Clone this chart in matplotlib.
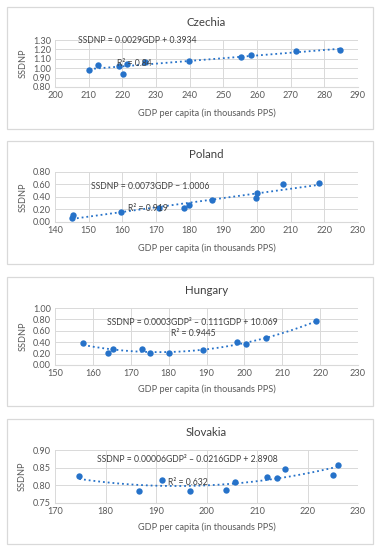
import numpy as np
import matplotlib
matplotlib.use('Agg')
import matplotlib.pyplot as plt
from matplotlib.patches import Rectangle

plt.rcParams['font.family'] = ['Lato', 'DejaVu Sans']

# data
cz_gdp = [210.2, 212.7, 218.9, 220.2, 221.4, 226.7, 239.9, 255.1, 258.1, 271.7, 284.7]
cz_ssdnp = [0.984, 1.034, 1.027, 0.935, 1.041, 1.062, 1.077, 1.116, 1.140, 1.183, 1.194]

pl_gdp = [145.1, 145.4, 159.5, 170.8, 178.3, 179.8, 186.7, 199.6, 200.0, 207.7, 218.4]
pl_ssdnp = [0.065, 0.115, 0.155, 0.225, 0.225, 0.272, 0.345, 0.38, 0.465, 0.615, 0.622]

hu_gdp = [157.5, 163.9, 165.4, 173.1, 175.2, 180.2, 189.0, 198.1, 200.5, 205.7, 218.9]
hu_ssdnp = [0.386, 0.205, 0.286, 0.281, 0.216, 0.211, 0.269, 0.404, 0.363, 0.468, 0.766]

sk_gdp = [174.8, 186.7, 191.2, 196.7, 203.9, 205.6, 212.0, 214.0, 215.5, 225.1, 226.0]
sk_ssdnp = [0.8255, 0.783, 0.816, 0.785, 0.788, 0.810, 0.823, 0.820, 0.847, 0.830, 0.857]

titles = ['Czechia', 'Poland', 'Hungary', 'Slovakia']
equations = ['SSDNP = 0.0029GDP + 0.3934',
             'SSDNP = 0.0073GDP \u2212 1.0006',
             'SSDNP = 0.0003GDP\u00b2 \u2013 0.111GDP + 10.069',
             'SSDNP = 0.00006GDP\u00b2 \u2013 0.0216GDP + 2.8908']
r2_labels = ['R\u00b2 = 0.84', 'R\u00b2 = 0.919', 'R\u00b2 = 0.9445', 'R\u00b2 = 0.632']
degrees = [1, 1, 2, 2]
xlims = [(200, 290), (140, 230), (150, 230), (170, 230)]
ylims = [(0.80, 1.30), (0.0, 0.80), (0.0, 1.00), (0.75, 0.90)]
ysteps = [0.10, 0.20, 0.20, 0.05]

blue = '#2672C9'
grey = '#595959'
W, H = 381, 550

fig = plt.figure(figsize=(W / 100, H / 100), dpi=100)
renderer = fig.canvas.get_renderer()


def size_for(text, target_px, ref=10.0):
    # font size that makes the text about target_px wide
    t = fig.text(0, 0, text, fontsize=ref)
    w = t.get_window_extent(renderer).width
    t.remove()
    return ref * target_px / w


eq_fs = size_for(equations[2], 162) * 1.05
xl_fs = size_for('GDP per capita (in thousands PPS)', 137)
ttl_fs = size_for('Czechia', 35) * 1.12
tick_fs = xl_fs

# panel boxes (top, bottom in px) and axes rows (top, bottom in px)
boxes = [(7, 129), (141, 264), (277, 406), (419, 544)]
axrows = [(40, 87), (172, 222), (308, 365), (450, 503)]
title_y = [23, 155, 291, 433]
xlab_y = [113, 248, 389, 527]
eq_pos = [(206.8, 1.29, 'left'), (150.7, 0.56, 'left'), (186.4, 0.75, 'center'), (196.3, 0.872, 'center')]
r2_pos = [(218.4, 1.055, 'left'), (161.7, 0.21, 'left'), (186.4, 0.56, 'center'), (192.4, 0.809, 'left')]

data = [(cz_gdp, cz_ssdnp), (pl_gdp, pl_ssdnp), (hu_gdp, hu_ssdnp), (sk_gdp, sk_ssdnp)]

for i in range(4):
    top, bot = boxes[i]
    fig.patches.append(Rectangle((7 / W, 1 - bot / H), 366 / W, (bot - top) / H,
                                 transform=fig.transFigure, facecolor='none',
                                 edgecolor='#D9D9D9', lw=0.9, zorder=-1))
    at, ab = axrows[i]
    ax = fig.add_axes([55 / W, 1 - ab / H, 303 / W, (ab - at) / H])
    ax.set_facecolor('none')
    x, y = data[i]
    ax.scatter(x, y, s=21, color=blue, zorder=3, linewidths=0)
    coef = np.polyfit(x, y, degrees[i])
    xs = np.linspace(min(x), max(x), 200)
    ax.plot(xs, np.polyval(coef, xs), color=blue, ls=':', lw=1.3, zorder=2)

    ax.set_xlim(*xlims[i])
    ax.set_ylim(*ylims[i])
    ax.set_xticks(np.arange(xlims[i][0], xlims[i][1] + 1, 10))
    yt = np.arange(ylims[i][0], ylims[i][1] + ysteps[i] / 2, ysteps[i])
    ax.set_yticks(yt)
    ax.set_yticklabels([f'{v:.2f}' for v in yt])
    ax.grid(color='#D9D9D9', lw=0.7)
    ax.set_axisbelow(True)
    for s in ax.spines.values():
        s.set_visible(False)
    ax.spines['bottom'].set_visible(True)
    ax.spines['bottom'].set_color('#D9D9D9')
    ax.tick_params(length=0, labelsize=tick_fs, colors=grey, pad=3)
    ax.set_ylabel('SSDNP', fontsize=tick_fs, color=grey, labelpad=4)

    fig.text(0.5 * (55 + 358) / W, 1 - title_y[i] / H, titles[i], ha='center', va='center',
             fontsize=ttl_fs, color='#404040')
    fig.text(0.5 * (55 + 358) / W, 1 - xlab_y[i] / H, 'GDP per capita (in thousands PPS)',
             ha='center', va='center', fontsize=xl_fs, color=grey)

    ex, ey, eha = eq_pos[i]
    ax.text(ex, ey, equations[i], ha=eha, va='center', fontsize=eq_fs, color='#404040', zorder=4)
    rx, ry, rha = r2_pos[i]
    ax.text(rx, ry, r2_labels[i], ha=rha, va='center', fontsize=eq_fs, color='#404040', zorder=4)

fig.savefig('out.png', dpi=100, facecolor='white')
